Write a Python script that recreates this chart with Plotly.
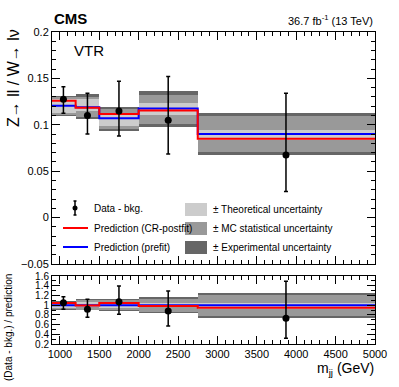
import plotly.graph_objects as go

# m_jj bins (GeV)
edges = [900, 1200, 1500, 2000, 2750, 5000]

# main panel: Z->ll / W->lnu
data_x = [1045, 1350, 1750, 2375, 3870]
data_y = [0.1275, 0.110, 0.115, 0.105, 0.0675]
data_err_up = [0.0135, 0.024, 0.032, 0.047, 0.0665]
data_err_dn = [0.015, 0.020, 0.027, 0.0365, 0.0395]

postfit = [0.126, 0.1184, 0.1116, 0.1155, 0.085]
prefit = [0.1206, 0.119, 0.107, 0.1175, 0.090]

exp_hi = [0.131, 0.1328, 0.1189, 0.1364, 0.113]
exp_lo = [0.1095, 0.1063, 0.0937, 0.098, 0.0675]
mc_hi = [0.1298, 0.1305, 0.1167, 0.1325, 0.110]
mc_lo = [0.111, 0.108, 0.0955, 0.101, 0.0707]
th_hi = [0.128, 0.1275, 0.1124, 0.123, 0.0944]
th_lo = [0.113, 0.1152, 0.0987, 0.1106, 0.0836]

# ratio panel: (data - bkg.) / prediction
r_data = [1.05, 0.915, 1.07, 0.88, 0.73]
r_err_up = [0.125, 0.205, 0.325, 0.41, 0.76]
r_err_dn = [0.135, 0.165, 0.26, 0.31, 0.41]
r_postfit = [1.045, 0.995, 1.043, 0.98, 0.944]
r_prefit = [1.0, 1.0, 1.0, 1.0, 1.0]

r_exp_hi = [1.09, 1.12, 1.12, 1.16, 1.245]
r_exp_lo = [0.91, 0.89, 0.87, 0.83, 0.74]
r_mc_hi = [1.075, 1.10, 1.10, 1.13, 1.21]
r_mc_lo = [0.925, 0.905, 0.89, 0.86, 0.78]
r_th_hi = [1.06, 1.07, 1.05, 1.05, 1.05]
r_th_lo = [0.94, 0.96, 0.95, 0.96, 0.93]

LIGHT = '#cccccc'
MID = '#999999'
DARK = '#666666'
FONT = 'Liberation Sans, Arial, sans-serif'

centers = [(a + b) / 2 for a, b in zip(edges[:-1], edges[1:])]
widths = [b - a for a, b in zip(edges[:-1], edges[1:])]

W, H = 399, 387
L, R, T, B = 52, 24, 32, 43


def px(x):
    return (x - L) / (W - L - R)


def py(y):
    return (H - B - y) / (H - T - B)


fig = go.Figure()


def add_panel(xa, ya, ehi, elo, mhi, mlo, thi, tlo, post, pre, dy, eup, edn):
    for hi, lo, col in [(ehi, elo, DARK), (mhi, mlo, MID), (thi, tlo, LIGHT)]:
        fig.add_trace(go.Bar(
            x=centers, width=widths, base=lo,
            y=[h - l for h, l in zip(hi, lo)],
            marker=dict(color=col, line=dict(width=0)),
            xaxis=xa, yaxis=ya, showlegend=False, hoverinfo='skip'))
    for vals, col in [(pre, '#0000ff'), (post, '#ff0000')]:
        fig.add_trace(go.Scatter(
            x=edges, y=vals + [vals[-1]], mode='lines',
            line=dict(color=col, width=2, shape='hv'),
            xaxis=xa, yaxis=ya, showlegend=False))
    fig.add_trace(go.Scatter(
        x=data_x, y=dy, mode='markers',
        marker=dict(color='black', size=7),
        error_y=dict(type='data', symmetric=False, array=eup, arrayminus=edn,
                     color='black', thickness=1.5, width=2),
        xaxis=xa, yaxis=ya, showlegend=False))


add_panel('x', 'y', exp_hi, exp_lo, mc_hi, mc_lo, th_hi, th_lo,
          postfit, prefit, data_y, data_err_up, data_err_dn)
add_panel('x2', 'y2', r_exp_hi, r_exp_lo, r_mc_hi, r_mc_lo, r_th_hi, r_th_lo,
          r_postfit, r_prefit, r_data, r_err_up, r_err_dn)

axis_common = dict(showline=True, linecolor='black', linewidth=1, mirror='allticks',
                   ticks='inside', ticklen=8, tickwidth=1, tickcolor='black',
                   showgrid=False, zeroline=False,
                   tickfont=dict(family=FONT, size=11, color='black'))

fig.update_layout(
    width=W, height=H,
    margin=dict(l=L, r=R, t=T, b=B),
    paper_bgcolor='white', plot_bgcolor='white',
    barmode='overlay', bargap=0,
    font=dict(family=FONT, color='black'),
    xaxis=dict(axis_common, domain=[0, 1], anchor='y', range=[900, 5000],
               tick0=1000, dtick=500, showticklabels=False,
               minor=dict(ticks='inside', ticklen=4, dtick=100, tickcolor='black')),
    yaxis=dict(axis_common, domain=[py(264), 1], anchor='x', range=[-0.05, 0.2],
               dtick=0.05, minor=dict(ticks='inside', ticklen=4, dtick=0.01, tickcolor='black')),
    xaxis2=dict(axis_common, domain=[0, 1], anchor='y2', range=[900, 5000],
                tick0=1000, dtick=500,
                minor=dict(ticks='inside', ticklen=4, dtick=100, tickcolor='black')),
    yaxis2=dict(axis_common, domain=[0, py(276)], anchor='x2', range=[0.2, 1.6],
                dtick=0.2, tickfont=dict(family=FONT, size=10, color='black'),
                minor=dict(ticks='inside', ticklen=4, dtick=0.1, tickcolor='black')),
)

ann = [
    dict(text='<b>CMS</b>', x=px(52), y=py(19), xanchor='left', size=15),
    dict(text='36.7 fb<sup>-1</sup> (13 TeV)', x=px(375), y=py(20), xanchor='right', size=11),
    dict(text='VTR', x=px(72), y=py(50), xanchor='left', size=15),
    dict(text='m<sub>jj</sub> (GeV)', x=px(376), y=py(369), xanchor='right', size=14),
    dict(text='Data - bkg.', x=px(92), y=py(208), xanchor='left', size=10),
    dict(text='Prediction (CR-postfit)', x=px(92), y=py(228), xanchor='left', size=10),
    dict(text='Prediction (prefit)', x=px(92), y=py(247), xanchor='left', size=10),
    dict(text='± Theoretical uncertainty', x=px(211), y=py(209), xanchor='left', size=10),
    dict(text='± MC statistical uncertainty', x=px(211), y=py(228), xanchor='left', size=10),
    dict(text='± Experimental uncertainty', x=px(211), y=py(247), xanchor='left', size=10),
    dict(text='Z→ ll / W→ lν', x=px(13), y=py(78), xanchor='center', size=16,
         textangle=-90),
    dict(text='(Data - bkg.) / prediction', x=px(8), y=py(328), xanchor='center',
         size=10, textangle=-90),
]
for a in ann:
    size = a.pop('size')
    fig.add_annotation(a, xref='paper', yref='paper', yanchor='middle', showarrow=False,
                       font=dict(family=FONT, size=size, color='black'))

# legend symbols
shapes = [
    dict(type='line', x0=px(75), x1=px(75), y0=py(201), y1=py(215),
         line=dict(color='black', width=1.5)),
    dict(type='line', x0=px(73.5), x1=px(76.5), y0=py(201), y1=py(201),
         line=dict(color='black', width=1.5)),
    dict(type='line', x0=px(73.5), x1=px(76.5), y0=py(215), y1=py(215),
         line=dict(color='black', width=1.5)),
    dict(type='circle', x0=px(72.5), x1=px(77.5), y0=py(205.5), y1=py(210.5),
         fillcolor='black', line=dict(color='black', width=0)),
    dict(type='line', x0=px(63), x1=px(88), y0=py(228), y1=py(228),
         line=dict(color='#ff0000', width=2)),
    dict(type='line', x0=px(63), x1=px(88), y0=py(247), y1=py(247),
         line=dict(color='#0000ff', width=2)),
]
for y0, col in [(203, LIGHT), (222, MID), (241, DARK)]:
    shapes.append(dict(type='rect', x0=px(185), x1=px(207), y0=py(y0), y1=py(y0 + 13),
                       fillcolor=col, line=dict(width=0)))
for s in shapes:
    fig.add_shape(s, xref='paper', yref='paper')

fig.write_html("out.html", config={'displayModeBar': False},
               post_script="document.body.style.margin = '0';")
